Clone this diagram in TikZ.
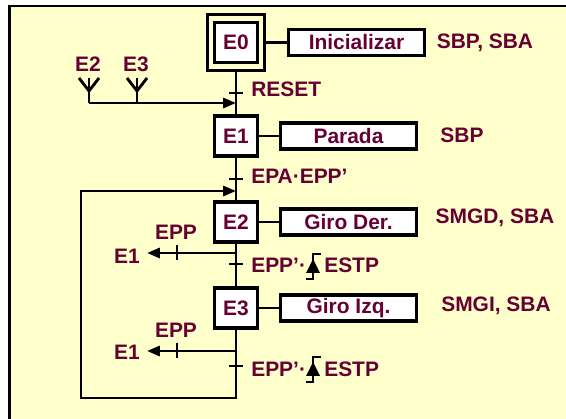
\documentclass[tikz,border=0pt]{standalone}
\usepackage{fontspec}
\setmainfont{Liberation Sans}
\usepackage{tikz}
\usetikzlibrary{arrows.meta}
\definecolor{granate}{RGB}{102,0,51}
\definecolor{fondo}{RGB}{255,255,204}
\newcommand\etiq{\fontsize{14.9}{17}\selectfont\bfseries}

\begin{document}
\begin{tikzpicture}[x=0.025cm,y=-0.025cm,
  linea/.style={line width=2pt},
  arr/.style={-{Triangle[length=0.32cm,width=0.25cm]},line width=2pt},
  etapa/.style={draw,line width=2.2pt,fill=white,minimum width=1.07cm,
    minimum height=1.0cm,inner sep=0pt,font=\etiq,text=granate},
  accion/.style={draw,line width=2.2pt,fill=white,minimum width=3.4cm,
    minimum height=0.65cm,inner sep=0pt,font=\etiq,text=granate},
  txt/.style={font=\etiq,text=granate,inner sep=0pt}]
  \useasboundingbox (0,0) rectangle (566,419);
  % Frame
  \fill[fondo] (8,6) rectangle (566,419);
  \draw[linea] (9.5,419) -- (9.5,6) -- (566,6);
  % Steps
  \node[etapa,minimum width=1.425cm,minimum height=1.4cm,fill=fondo] (E0m) at (236,42.5) {};
  \node[etapa] (E0) at (236,42.5) {E0};
  \node[etapa] (E1) at (236,136) {E1};
  \node[etapa] (E2) at (236,222) {E2};
  \node[etapa] (E3) at (236,308) {E3};
  % Actions
  \node[accion] (A0) at (356.5,42.5) {Inicializar};
  \node[accion] (A1) at (348.5,136) {Parada};
  \node[accion] (A2) at (348.5,222) {Giro Der.};
  \node[accion] (A3) at (348.5,308) {Giro Izq.};
  \node[txt,anchor=base] (S0) at (485,48.5) {SBP, SBA};
  \node[txt,anchor=base] (S1) at (462,142.5) {SBP};
  \node[txt,anchor=base] (S2) at (495,224) {SMGD, SBA};
  \node[txt,anchor=base] (S3) at (496,312) {SMGI, SBA};
  \draw[linea] (E0m) -- (A0);
  \draw[linea] (E1) -- (A1);
  \draw[linea] (E2) -- (A2);
  \draw[linea] (E3) -- (A3);
  % Stem
  \draw[linea] (E0m) -- (E1) -- (E2) -- (E3);
  \coordinate (r0) at (236,103);
  \coordinate (r1) at (236,191);
  \coordinate (fin) at (236,398);
  \coordinate (lz) at (81,191);
  \draw[arr] (E3) -- (fin) -| (lz) -- (r1);
  % Transitions
  \foreach \ty in {93,179,264,366}
    \draw[linea] (229,\ty) -- (243,\ty);
  \node[txt,anchor=base west] (T0) at (251,97) {RESET};
  \node[txt,anchor=base west] (T1) at (251,184) {EPA·EPP’};
  \node[txt,anchor=base west] (T2) at (251,273) {EPP’·};
  \node[txt,anchor=base west] (T2b) at (324,273) {ESTP};
  \node[txt,anchor=base west] (T3) at (251,376) {EPP’·};
  \node[txt,anchor=base west] (T3b) at (324,376) {ESTP};
  % Rising edge
  \foreach \yy in {0,103} {
    \draw[line width=1.3pt] (306,279+\yy) -- (313,279+\yy) -- (313,254+\yy) -- (321,254+\yy);
    \fill (313,259+\yy) -- (320,273+\yy) -- (306,273+\yy) -- cycle;
  }
  % Inputs from E2, E3
  \node[txt,anchor=base] (iE2) at (88,72) {E2};
  \node[txt,anchor=base] (iE3) at (136,72) {E3};
  \coordinate (bE2) at (89,103);
  \foreach \xx in {89,137} {
    \draw[linea] (\xx,78) -- (\xx,103);
    \draw[linea] (\xx-10,78) -- (\xx,91) -- (\xx+10,78);
  }
  \draw[arr] (bE2) -- (r0);
  % Exits to E1
  \coordinate (b2) at (236,253);
  \coordinate (p2) at (147,253);
  \coordinate (b3) at (236,351);
  \coordinate (p3) at (147,351);
  \draw[arr] (b2) -- (p2);
  \draw[arr] (b3) -- (p3);
  \foreach \ty in {253,351}
    \draw[linea] (177,\ty-7.5) -- (177,\ty+7.5);
  \node[txt,anchor=base] (oE1a) at (127,264) {E1};
  \node[txt,anchor=base] (oE1b) at (127,360) {E1};
  \node[txt,anchor=base] (c2) at (176,240) {EPP};
  \node[txt,anchor=base] (c3) at (176,337) {EPP};
\end{tikzpicture}
\end{document}
